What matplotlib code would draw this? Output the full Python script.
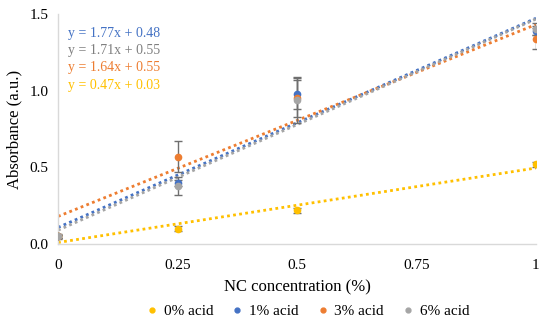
import numpy as np
import matplotlib.pyplot as plt

# data
nc = [0, 0.25, 0.5, 1]
labels = ["0% acid", "1% acid", "3% acid", "6% acid"]
colors = ["#FFC000", "#4472C4", "#ED7D31", "#A5A5A5"]
acid0 = [0.05, 0.10, 0.22, 0.52]
acid1 = [0.05, 0.40, 0.98, 1.39]
acid3 = [0.05, 0.57, 0.95, 1.34]
acid6 = [0.05, 0.38, 0.94, 1.40]
err0 = [0.01, 0.015, 0.015, 0.015]
err1 = [0.01, 0.02, 0.10, 0.03]
err3 = [0.01, 0.10, 0.12, 0.07]
err6 = [0.015, 0.06, 0.15, 0.04]
equations = ["y = 1.77x + 0.48", "y = 1.71x + 0.55", "y = 1.64x + 0.55", "y = 0.47x + 0.03"]
eq_colors = ["#4472C4", "#7F7F7F", "#ED7D31", "#FFC000"]

plt.rcParams['font.family'] = ['Liberation Serif', 'DejaVu Serif']

fig = plt.figure(figsize=(5.5, 3.26), dpi=100)
ax = fig.add_axes([0.1055, 0.2515, 0.869, 0.7055])

series = [acid0, acid1, acid3, acid6]
errs = [err0, err1, err3, err6]
xs = np.linspace(0, 1, 50)

# dotted linear trendlines
for vals, c in zip(series, colors):
    k, b = np.polyfit(nc, vals, 1)
    ax.plot(xs, k * xs + b, ls=(0, (1, 1.2)), lw=2.0, color=c, zorder=2)

for vals, e, c, lab in zip(series, errs, colors, labels):
    ax.errorbar(nc, vals, yerr=e, fmt='o', ms=4.5, color=c, ecolor='#6f6f6f',
                elinewidth=1, capsize=3, capthick=1, label=lab, zorder=3)

for i, (t, c) in enumerate(zip(equations, eq_colors)):
    ax.text(0.02, 1.37 - i * 0.111, t, color=c, fontsize=10, va='center', ha='left')

ax.set_xlim(0, 1)
ax.set_ylim(0, 1.5)
ax.set_xticks([0, 0.25, 0.5, 0.75, 1])
ax.set_xticklabels(["0", "0.25", "0.5", "0.75", "1"])
ax.set_yticks([0, 0.5, 1.0, 1.5])
ax.set_yticklabels(["0.0", "0.5", "1.0", "1.5"])
ax.tick_params(length=0, labelsize=11, pad=11)
ax.tick_params(axis='y', pad=7)
for s in ['top', 'right']:
    ax.spines[s].set_visible(False)
for s in ['left', 'bottom']:
    ax.spines[s].set_color('#D9D9D9')
    ax.spines[s].set_linewidth(1)

ax.set_xlabel("NC concentration (%)", fontsize=12, labelpad=5)
ax.set_ylabel("Absorbance (a.u.)", fontsize=12, labelpad=5)

handles = [plt.Line2D([], [], ls='', marker='o', ms=3.5, color=c) for c in colors]
fig.legend(handles, labels, loc='center', bbox_to_anchor=(308 / 550, 1 - 311 / 326),
           ncol=4, frameon=False, fontsize=11, handlelength=0.7, handletextpad=0.4,
           columnspacing=1.25)

fig.savefig("out.png", dpi=100)
